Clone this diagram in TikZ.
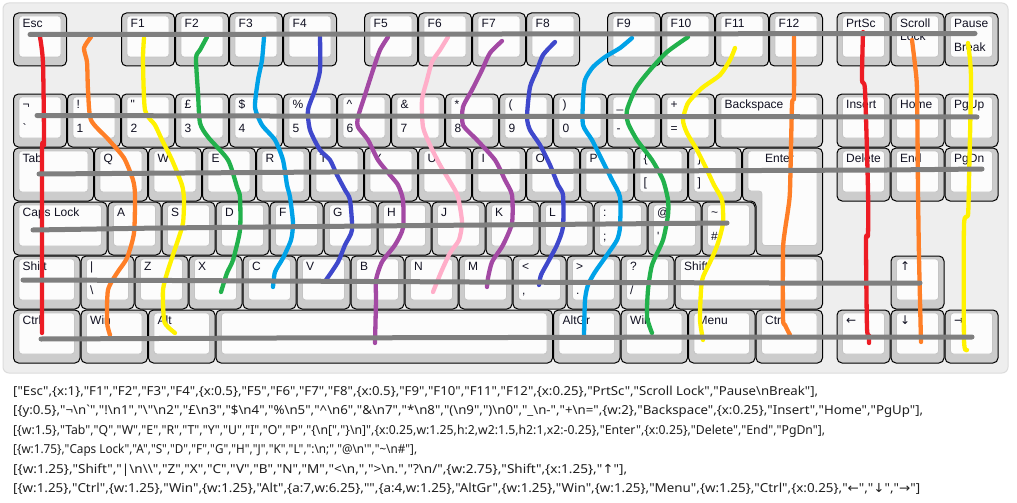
\documentclass[tikz,border=0pt]{standalone}
\usepackage{fontspec}
\setmainfont{Liberation Sans}[Ligatures=TeXOff]
\newfontfamily\jsonfont{Noto Sans}[Ligatures=TeXOff]
\newfontfamily\arrowfont{DejaVu Sans}[Ligatures=TeXOff]

\definecolor{panelbg}{HTML}{EEEEEE}
\definecolor{panelrim}{HTML}{DCDCDC}
\definecolor{keygrey}{HTML}{CCCCCC}
\definecolor{keywhite}{HTML}{FCFCFC}
\definecolor{keyrim}{HTML}{C4C4C4}
\definecolor{keytext}{HTML}{111122}
\definecolor{wgrey}{HTML}{7F7F7F}
\definecolor{wred}{HTML}{ED1C24}
\definecolor{worange}{HTML}{FF7F27}
\definecolor{wyellow}{HTML}{FFF200}
\definecolor{wgreen}{HTML}{22B14C}
\definecolor{wblue}{HTML}{00A2E8}
\definecolor{windigo}{HTML}{3F48CC}
\definecolor{wpurple}{HTML}{A349A4}
\definecolor{wpink}{HTML}{FFAEC9}

\tikzset{
  keycap/.style={draw=black, fill=keygrey, line width=1pt, rounded corners=5pt},
  keytop/.style={draw=keyrim, fill=keywhite, line width=0.8pt, rounded corners=3pt},
  keylbl/.style={anchor=base west, inner sep=0pt, text=keytext,
    font=\fontsize{12}{13}\selectfont},
  wire/.style={line width=4.3pt, line cap=round, line join=round},
  rowwire/.style={line width=5pt, draw=wgrey, line cap=round, line join=round},
  jsonline/.style={anchor=base west, inner sep=0pt, text=black!88,
    font=\jsonfont\fontsize{12.4}{14}\selectfont},
}

% one key: name, x, y, width (in key units), top label, bottom label
\newcommand\kbkey[6]{%
  \draw[keycap] ({13.5+54*(#2)},{13+54*(#3)}) rectangle ++({54*(#4)-1},53);
  \draw[keytop] ({19+54*(#2)},{16+54*(#3)}) rectangle ++({54*(#4)-12},41);
  \node[keylbl] (#1-t) at ({22.5+54*(#2)},{27.5+54*(#3)}) {#5};
  \node[keylbl] (#1-b) at ({22.5+54*(#2)},{51.5+54*(#3)}) {#6};
}
\newcommand\kbn{\textbackslash n}
% a layout line squeezed to the width it has in the picture
\newcommand\kbline[2]{\resizebox{#1pt}{\height}{#2}}

\begin{document}
\begin{tikzpicture}[x=1pt,y=-1pt]
\useasboundingbox[fill=white] (0,0) rectangle (1017,503);
\draw[fill=panelbg, draw=panelrim, line width=1pt, rounded corners=6pt] (3,3) rectangle (1008,373);

% function row
\kbkey{esc}{0}{0}{1}{Esc}{}
\foreach \k [count=\i] in {F1,F2,F3,F4} {\kbkey{f\i}{\i+1}{0}{1}{\k}{}}
\foreach \k [count=\i from 5] in {F5,F6,F7,F8} {\kbkey{f\i}{\i+1.5}{0}{1}{\k}{}}
\foreach \k [count=\i from 9] in {F9,F10,F11,F12} {\kbkey{f\i}{\i+2}{0}{1}{\k}{}}
\kbkey{prtsc}{15.25}{0}{1}{PrtSc}{}
\kbkey{scroll}{16.25}{0}{1}{\begin{tabular}[t]{@{}l@{}}Scroll\\Lock\end{tabular}}{}
\kbkey{pause}{17.25}{0}{1}{Pause}{Break}

% number row
\foreach \t/\b [count=\i from 0] in {¬/\textasciigrave, !/1, "/2, £/3, \$/4, \%/5,
    \textasciicircum/6, \&/7, */8, {(}/9, {)}/0, \_/-, +/=}
  {\kbkey{n\i}{\i}{1.5}{1}{\t}{\b}}
\kbkey{bksp}{13}{1.5}{2}{Backspace}{}
\kbkey{ins}{15.25}{1.5}{1}{Insert}{}
\kbkey{home}{16.25}{1.5}{1}{Home}{}
\kbkey{pgup}{17.25}{1.5}{1}{PgUp}{}

% top letter row
\kbkey{tab}{0}{2.5}{1.5}{Tab}{}
\foreach \k [count=\i from 0] in {Q,W,E,R,T,Y,U,I,O,P}
  {\kbkey{q\i}{1.5+\i}{2.5}{1}{\k}{}}
\kbkey{lbrace}{11.5}{2.5}{1}{\{}{[}
\kbkey{rbrace}{12.5}{2.5}{1}{\}}{]}
% iso enter
\draw[keycap] (742.5,148) -- (822.5,148) -- (822.5,255) -- (756,255) -- (756,201) -- (742.5,201) -- cycle;
\draw[keytop] (748,151) -- (817,151) -- (817,245.5) -- (762,245.5) -- (762,191) -- (748,191) -- cycle;
\node[keylbl] (enter-t) at (765,162.5) {Enter};
\kbkey{del}{15.25}{2.5}{1}{Delete}{}
\kbkey{end}{16.25}{2.5}{1}{End}{}
\kbkey{pgdn}{17.25}{2.5}{1}{PgDn}{}

% home row
\kbkey{caps}{0}{3.5}{1.75}{Caps Lock}{}
\foreach \k [count=\i from 0] in {A,S,D,F,G,H,J,K,L}
  {\kbkey{a\i}{1.75+\i}{3.5}{1}{\k}{}}
\kbkey{colon}{10.75}{3.5}{1}{:}{;}
\kbkey{at}{11.75}{3.5}{1}{@}{\textquotesingle}
\kbkey{hash}{12.75}{3.5}{1}{\textasciitilde}{\#}

% bottom letter row
\kbkey{lshift}{0}{4.5}{1.25}{Shift}{}
\kbkey{pipe}{1.25}{4.5}{1}{|}{\textbackslash}
\foreach \k [count=\i from 0] in {Z,X,C,V,B,N,M}
  {\kbkey{z\i}{2.25+\i}{4.5}{1}{\k}{}}
\kbkey{less}{9.25}{4.5}{1}{<}{,}
\kbkey{more}{10.25}{4.5}{1}{>}{.}
\kbkey{slash}{11.25}{4.5}{1}{?}{/}
\kbkey{rshift}{12.25}{4.5}{2.75}{Shift}{}
\kbkey{up}{16.25}{4.5}{1}{\arrowfont ↑}{}

% space row
\kbkey{lctrl}{0}{5.5}{1.25}{Ctrl}{}
\kbkey{lwin}{1.25}{5.5}{1.25}{Win}{}
\kbkey{alt}{2.5}{5.5}{1.25}{Alt}{}
\kbkey{space}{3.75}{5.5}{6.25}{}{}
\kbkey{altgr}{10}{5.5}{1.25}{AltGr}{}
\kbkey{rwin}{11.25}{5.5}{1.25}{Win}{}
\kbkey{menu}{12.5}{5.5}{1.25}{Menu}{}
\kbkey{rctrl}{13.75}{5.5}{1.25}{Ctrl}{}
\kbkey{left}{15.25}{5.5}{1}{\arrowfont ←}{}
\kbkey{down}{16.25}{5.5}{1}{\arrowfont ↓}{}
\kbkey{right}{17.25}{5.5}{1}{\arrowfont →}{}

% column wires
\draw[wire, wred] plot[smooth, tension=0.4] coordinates {(40,37) (43,63) (44,143) (42,152) (42,333)};
\draw[wire, worange] plot[smooth, tension=0.4] coordinates {(91,37) (84,48) (87,62) (88,90) (91,120) (108,139) (124,158) (133,180) (135,195) (134,233) (127,258) (117,273) (108,290) (107,322) (110,335)};
\draw[wire, wyellow] plot[smooth, tension=0.4] coordinates {(144,38) (143,60) (145,110) (155,125) (162,140) (172,160) (182,185) (184,200) (183,223) (178,240) (168,270) (163,290) (164,320) (168,327) (175,333)};
\draw[wire, wgreen] plot[smooth, tension=0.4] coordinates {(207,37) (200,50) (196,58) (198,93) (200,123) (208,137) (228,160) (237,187) (240,197) (240,230) (233,260) (227,273) (221,292)};
\draw[wire, wblue] plot[smooth, tension=0.4] coordinates {(264,37) (262,60) (258,80) (255,107) (262,125) (275,140) (283,160) (287,185) (290,197) (293,223) (291,240) (283,258) (275,272) (273,287)};
\draw[wire, windigo] plot[smooth, tension=0.4] coordinates {(320,37) (320,70) (315,90) (308,110) (310,130) (320,150) (330,160) (337,175) (345,190) (350,200) (352,230) (345,245) (338,262) (326,280)};
\draw[wire, wpurple] plot[smooth, tension=0.4] coordinates {(388,37) (380,50) (373,70) (365,95) (358,117) (358,127) (368,140) (378,160) (390,175) (398,185) (403,200) (403,228) (395,245) (382,262) (376,280) (376,300) (375,343)};
\draw[wire, wpink] plot[smooth, tension=0.4] coordinates {(448,37) (440,50) (432,62) (427,80) (422,100) (423,127) (430,145) (440,165) (452,185) (458,197) (462,222) (459,240) (450,253) (442,270) (437,282) (433,292)};
\draw[wire, wpurple] plot[smooth, tension=0.4] coordinates {(502,41) (490,53) (482,70) (472,90) (463,107) (463,125) (477,140) (495,160) (505,180) (512,195) (512,223) (503,245) (492,262) (488,278) (487,287)};
\draw[wire, windigo] plot[smooth, tension=0.4] coordinates {(555,42) (543,55) (537,70) (530,87) (527,117) (530,130) (540,145) (550,165) (558,185) (563,195) (563,227) (557,245) (548,262) (541,275) (539,285)};
\draw[wire, wblue] plot[smooth, tension=0.4] coordinates {(632,38) (620,48) (605,57) (593,67) (585,80) (583,100) (583,125) (592,140) (602,160) (612,180) (620,197) (620,227) (617,240) (607,255) (595,272) (588,285) (585,300) (584,335)};
\draw[wire, wgreen] plot[smooth, tension=0.4] coordinates {(688,37) (667,52) (650,70) (636,88) (627,110) (628,123) (637,140) (652,160) (663,180) (668,200) (668,215) (663,240) (652,265) (648,290) (647,317) (652,333)};
\draw[wire, wyellow] plot[smooth, tension=0.4] coordinates {(735,48) (730,60) (720,75) (702,88) (688,103) (683,120) (687,133) (697,150) (707,170) (714,185) (722,200) (723,223) (718,243) (712,258) (703,277) (701,290) (700,320) (703,340)};
\draw[wire, worange] plot[smooth, tension=0.4] coordinates {(794,37) (794,97) (792,105) (790,190) (788,210) (785,230) (783,250) (783,318) (785,325) (790,335)};
\draw[wire, wred] plot[smooth, tension=0.4] coordinates {(863,32) (862,80) (865,90) (868,190) (868,235) (866,240) (867,328) (869,335) (869,343)};
\draw[wire, worange] plot[smooth, tension=0.4] coordinates {(912,40) (915,65) (917,90) (918,190) (919,257) (921,342)};
\draw[wire, wyellow] plot[smooth, tension=0.4] coordinates {(968,43) (971,78) (969,180) (968,215) (964,225) (964,340) (967,350)};

% row wires
\draw[rowwire] (30,34.5) -- (975,33.5);
\draw[rowwire] (37,115.5) -- (270,116) -- (977,117);
\draw[rowwire] (39,174) -- (330,172) -- (510,171.5) -- (887,170) -- (982,169);
\draw[rowwire] (33,230) -- (160,228) -- (423,225.5) -- (727,223);
\draw[rowwire] (23,280) -- (173,280.5) -- (470,282) -- (770,283) -- (920,283);
\draw[rowwire] (41,339) -- (275,338) -- (738,337) -- (972,337);

% layout text
\node[jsonline] (json1) at (13,395) {\kbline{805}{["Esc",\{x:1\},"F1","F2","F3","F4",\{x:0.5\},"F5","F6","F7","F8",\{x:0.5\},"F9","F10","F11","F12",\{x:0.25\},"PrtSc","Scroll Lock","Pause\kbn Break"],}};
\node[jsonline] (json2) at (13,414.5) {\kbline{910}{[\{y:0.5\},"¬\kbn\textasciigrave","!\kbn 1","\textbackslash"\kbn 2","£\kbn 3","\$\kbn 4","\%\kbn 5","\textasciicircum\kbn 6","\&\kbn 7","*\kbn 8","(\kbn 9",")\kbn 0","\_\kbn -","+\kbn =",\{w:2\},"Backspace",\{x:0.25\},"Insert","Home","PgUp"],}};
\node[jsonline] (json3) at (13,434) {\kbline{812}{[\{w:1.5\},"Tab","Q","W","E","R","T","Y","U","I","O","P","\{\kbn[","\}\kbn]",\{x:0.25,w:1.25,h:2,w2:1.5,h2:1,x2:-0.25\},"Enter",\{x:0.25\},"Delete","End","PgDn"],}};
\node[jsonline] (json4) at (13,453.5) {\kbline{404}{[\{w:1.75\},"Caps Lock","A","S","D","F","G","H","J","K","L",":\kbn;","@\kbn\textquotesingle","\textasciitilde\kbn\#"],}};
\node[jsonline] (json5) at (13,473) {\kbline{614}{[\{w:1.25\},"Shift","|\kbn\textbackslash\textbackslash","Z","X","C","V","B","N","M","<\kbn,",">\kbn.","?\kbn/",\{w:2.75\},"Shift",\{x:1.25\},"{\arrowfont ↑}"],}};
\node[jsonline] (json6) at (13,492.5) {\kbline{907}{[\{w:1.25\},"Ctrl",\{w:1.25\},"Win",\{w:1.25\},"Alt",\{a:7,w:6.25\},"",\{a:4,w:1.25\},"AltGr",\{w:1.25\},"Win",\{w:1.25\},"Menu",\{w:1.25\},"Ctrl",\{x:0.25\},"{\arrowfont ←}","{\arrowfont ↓}","{\arrowfont →}"]}};
\end{tikzpicture}
\end{document}
